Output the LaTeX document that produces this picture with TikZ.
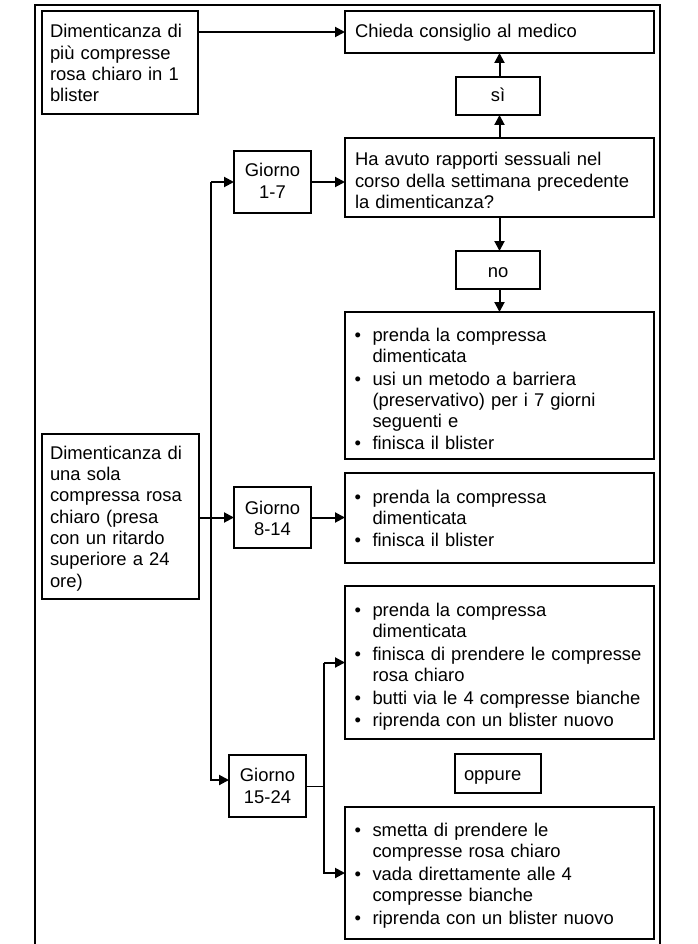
\documentclass[tikz,border=0pt]{standalone}
\usepackage{fontspec}
\setmainfont{Liberation Sans}
\usetikzlibrary{arrows.meta}

\newcommand{\blt}[1]{\hangindent=18pt\hangafter=1\noindent\makebox[18pt][l]{\textbullet}#1\par\parskip=1.7pt}

\begin{document}
\begin{tikzpicture}[x=1pt, y=-1pt,
  rbox/.style={draw, line width=2pt, anchor=north west, inner ysep=0pt, inner xsep=10pt,
    outer sep=0pt, align=left, text width=289pt, font=\fontsize{18.4}{21.3}\selectfont},
  lst/.style={rbox, inner xsep=9.5pt, text width=290pt, font=\fontsize{18.4}{21}\selectfont},
  day/.style={rbox, inner xsep=0pt, text width=77pt, align=center},
  arr/.style={line width=2pt, -{Triangle[length=10pt, width=10pt]}}]

\useasboundingbox (0,0) rectangle (697,944) ;

\draw [line width=2.2pt] (35,944) -- (35,5) -- (660,5) -- (660,944) ;

\node [rbox, text width=140pt, inner xsep=8pt, text height=27pt, text depth=76pt] (many) at (42,11)
  {Dimenticanza di\\più compresse\\rosa chiaro in 1\\blister} ;
\node [rbox, text width=141pt, inner xsep=8pt, text height=25.3pt, text depth=139.7pt] (one) at (42,434)
  {Dimenticanza di\\una sola\\compressa rosa\\chiaro (presa\\con un ritardo\\superiore a 24\\ore)} ;

\node [rbox, text height=26.5pt, text depth=15.5pt] (ask) at (345,11) {Chieda consiglio al medico} ;
\node [rbox, inner xsep=0pt, text width=84pt, align=center, text height=25pt, text depth=13pt] (yes) at (456,77) {sì} ;
\node [rbox, text height=28pt, text depth=51pt] (sex) at (345,138)
  {Ha avuto rapporti sessuali nel\\corso della settimana precedente\\la dimenticanza?} ;
\node [rbox, inner xsep=0pt, text width=84pt, align=center, text height=26pt, text depth=12pt] (no) at (456,251) {no} ;

\node [lst, text height=29.5pt, text depth=117.5pt] (w1) at (345,312)
  {\blt{prenda la compressa\newline dimenticata}\blt{usi un metodo a barriera\newline (preservativo) per i 7 giorni\newline seguenti e}\blt{finisca il blister}} ;
\node [lst, text height=30pt, text depth=60pt] (w2) at (345,473)
  {\blt{prenda la compressa\newline dimenticata}\blt{finisca il blister}} ;
\node [lst, text height=30.7pt, text depth=122.3pt] (w3) at (345,586)
  {\blt{prenda la compressa\newline dimenticata}\blt{finisca di prendere le compresse\newline rosa chiaro}\blt{butti via le 4 compresse bianche}\blt{riprenda con un blister nuovo}} ;
\node [rbox, inner xsep=9pt, text width=68pt, text height=26pt, text depth=13pt] (alt) at (455,754) {oppure} ;
\node [lst, text height=29.7pt, text depth=102.3pt] (w4) at (345,807)
  {\blt{smetta di prendere le\newline compresse rosa chiaro}\blt{vada direttamente alle 4\newline compresse bianche}\blt{riprenda con un blister nuovo}} ;

\node [day, text height=26pt, text depth=36pt] (d1) at (234,151) {Giorno\\1-7} ;
\node [day, text height=27pt, text depth=34pt] (d2) at (234,487) {Giorno\\8-14} ;
\node [day, text height=26.7pt, text depth=35.3pt] (d3) at (229,755) {Giorno\\15-24} ;

\coordinate (j) at (211,0) ;
\coordinate (k) at (324,0) ;

\draw [arr] (many.east |- ask.west) -- (ask.west) ;
\draw [arr] (sex.north) -- (sex.north |- yes.south) ;
\draw [arr] (sex.north |- yes.north) -- (sex.north |- ask.south) ;
\draw [arr] (sex.south) -- (sex.south |- no.north) ;
\draw [arr] (sex.south |- no.south) -- (sex.south |- w1.north) ;

\draw [arr] (j |- d1.west) -- (d1.west) ;
\draw [arr] (j |- d1.west) |- ([yshift=6pt]d3.west) ;
\draw [arr] (one.east |- d2.west) -- (d2.west) ;

\draw [arr] (d1.east) -- (d1.east -| sex.west) ;
\draw [arr] (d2.east) -- (d2.east -| w2.west) ;
\draw [line width=1pt] (d3.east) -- (d3.east -| k) ;
\draw [arr] (k |- w3.west) -- (w3.west) ;
\draw [arr] (k |- w3.west) |- (w4.west) ;

\end{tikzpicture}
\end{document}
